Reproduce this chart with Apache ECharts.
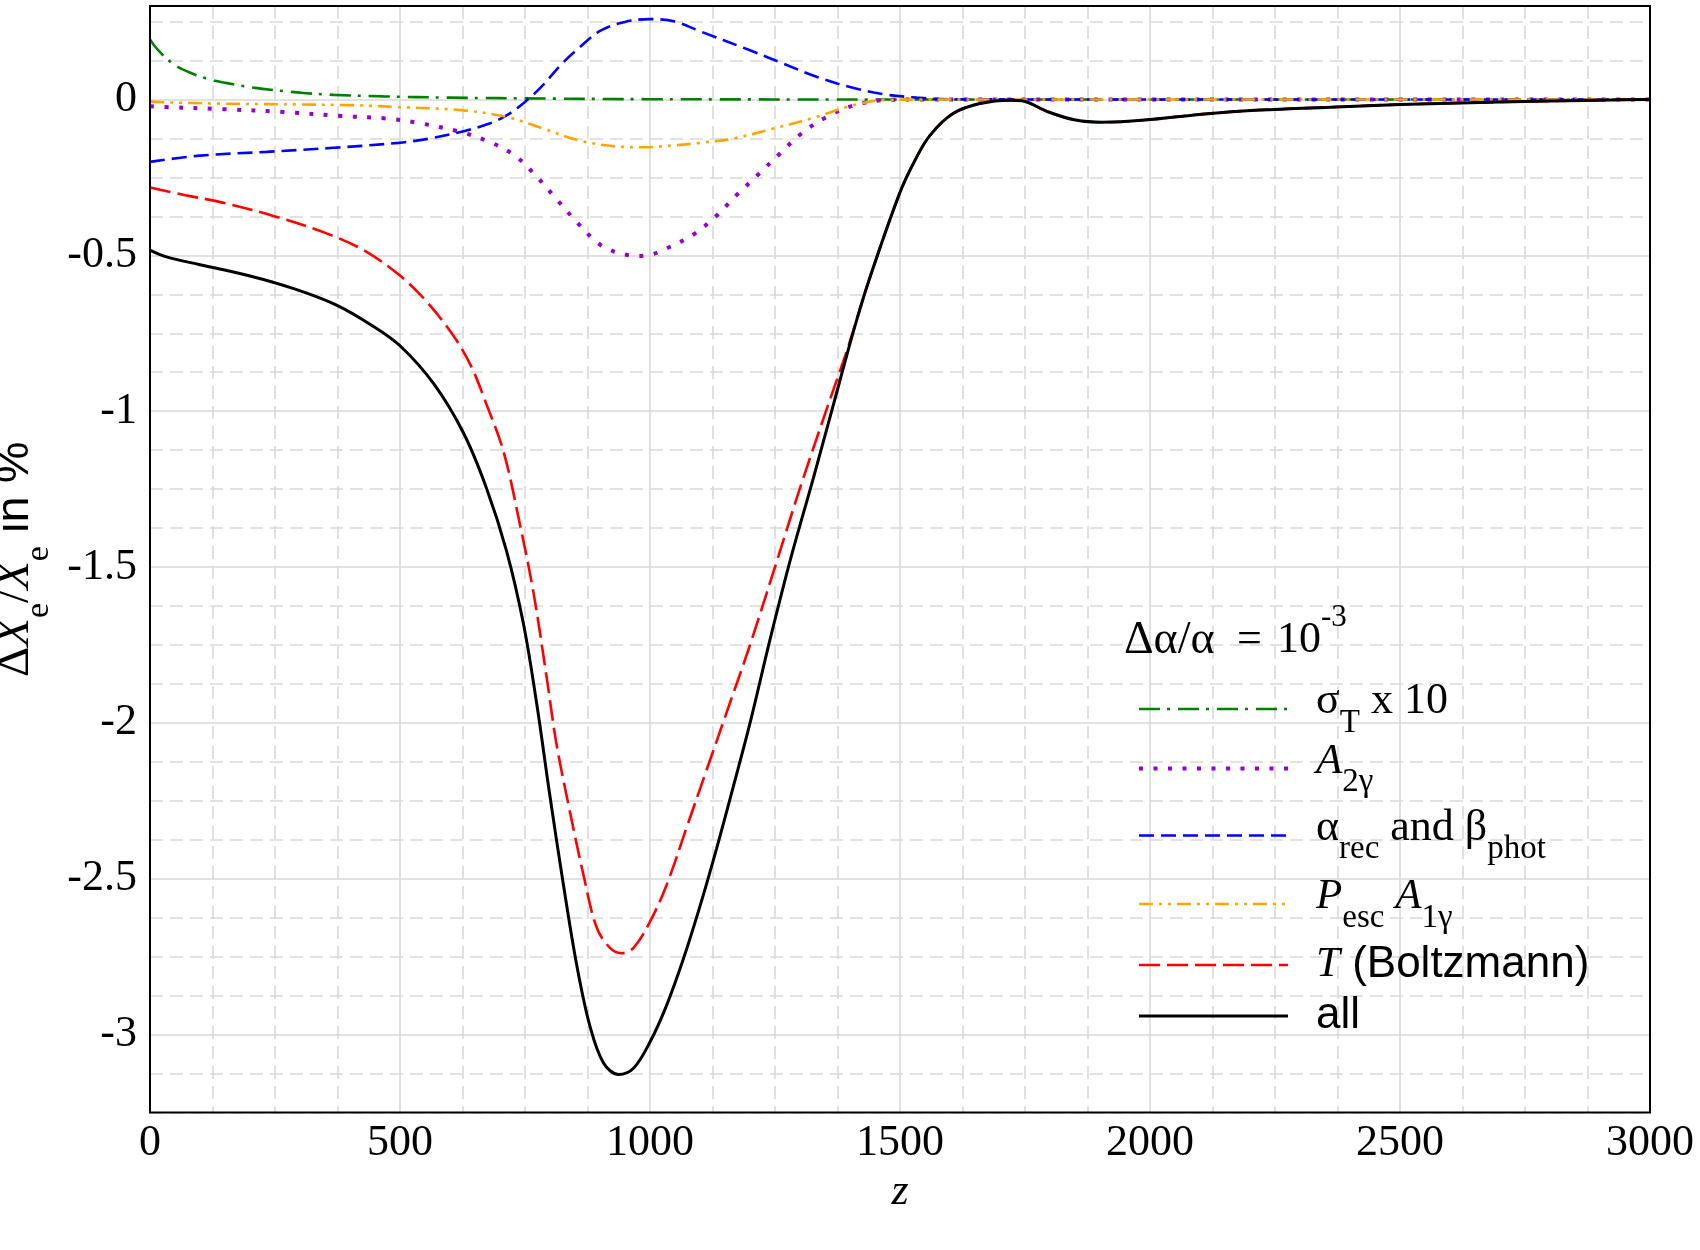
<!DOCTYPE html>
<html><head><meta charset="utf-8">
<script src="https://cdn.jsdelivr.net/npm/echarts@6/dist/echarts.min.js"></script>
<style>html,body{margin:0;padding:0;background:#fff}#c{width:1700px;height:1250px}</style>
</head><body><div id="c"></div>
<script>
// ---- data ----
const xTickValues = [0, 500, 1000, 1500, 2000, 2500, 3000];
const yTickValues = [0, -0.5, -1, -1.5, -2, -2.5, -3];

const zSigma = [0, 10, 23, 40, 63, 93, 110, 130, 180, 207, 267, 307, 367, 467, 600, 800, 1000, 1500, 3000];
const vSigma = [0.193, 0.170, 0.147, 0.122, 0.098, 0.078, 0.069, 0.060, 0.045, 0.038, 0.027, 0.021, 0.015, 0.010, 0.006, 0.003, 0.001, 0, 0];

const zA2 = [0, 27, 147, 267, 383, 473, 536, 621, 679, 729, 771, 810, 850, 893, 918, 946, 975, 1003, 1033, 1087, 1133, 1173, 1217, 1260, 1303, 1353, 1407, 1467, 1550, 2000, 3000];
const vA2 = [-0.022, -0.024, -0.031, -0.040, -0.053, -0.061, -0.075, -0.104, -0.136, -0.179, -0.243, -0.314, -0.387, -0.457, -0.481, -0.496, -0.502, -0.497, -0.478, -0.433, -0.373, -0.307, -0.240, -0.173, -0.109, -0.056, -0.019, -0.002, 0, 0, 0];

const zRec = [0, 100, 233, 367, 497, 560, 621, 679, 714, 750, 786, 821, 857, 900, 950, 1000, 1050, 1100, 1200, 1267, 1333, 1400, 1467, 1533, 1600, 2000, 3000];
const vRec = [-0.200, -0.180, -0.168, -0.155, -0.139, -0.125, -0.104, -0.077, -0.050, -0.008, 0.046, 0.110, 0.164, 0.220, 0.249, 0.258, 0.250, 0.219, 0.158, 0.115, 0.073, 0.040, 0.017, 0.006, 0.001, 0, 0];

const zPesc = [0, 13, 133, 400, 493, 621, 714, 786, 857, 929, 986, 1050, 1100, 1167, 1247, 1333, 1400, 1467, 1550, 2000, 3000];
const vPesc = [-0.006, -0.008, -0.013, -0.018, -0.024, -0.034, -0.056, -0.093, -0.131, -0.150, -0.153, -0.147, -0.139, -0.125, -0.093, -0.056, -0.021, -0.002, 0, 0, 0];

const zT = [0, 71, 143, 250, 357, 429, 500, 553, 607, 643, 673, 707, 740, 767, 793, 813, 840, 867, 893, 920, 943, 967, 1000, 1033, 1073, 1113, 1153, 1200, 1247, 1300, 1353, 1393, 1438, 1499, 1530, 1560, 1606, 1660, 1721, 1744, 1797, 1851, 1905, 1989, 2104, 2218, 2372, 2500, 2700, 2900, 3000];
const vT = [-0.282, -0.307, -0.330, -0.375, -0.432, -0.485, -0.565, -0.648, -0.758, -0.858, -0.978, -1.129, -1.364, -1.582, -1.850, -2.068, -2.286, -2.488, -2.655, -2.722, -2.739, -2.722, -2.638, -2.521, -2.337, -2.152, -1.968, -1.750, -1.515, -1.247, -0.995, -0.810, -0.580, -0.302, -0.195, -0.115, -0.045, -0.013, -0.002, -0.004, -0.040, -0.066, -0.073, -0.066, -0.047, -0.034, -0.024, -0.016, -0.008, -0.002, 0];

const zAll = [0, 33, 100, 200, 286, 371, 443, 500, 567, 627, 673, 713, 747, 773, 800, 827, 853, 880, 907, 937, 967, 1000, 1033, 1067, 1100, 1133, 1167, 1200, 1240, 1280, 1327, 1367, 1407, 1438, 1499, 1530, 1560, 1606, 1660, 1721, 1744, 1797, 1851, 1905, 1989, 2104, 2218, 2372, 2500, 2700, 2900, 3000];
const vAll = [-0.483, -0.505, -0.530, -0.566, -0.606, -0.658, -0.724, -0.790, -0.911, -1.070, -1.247, -1.448, -1.683, -1.934, -2.236, -2.521, -2.773, -2.974, -3.091, -3.128, -3.108, -3.024, -2.907, -2.756, -2.588, -2.404, -2.202, -2.001, -1.733, -1.481, -1.213, -0.978, -0.743, -0.580, -0.302, -0.195, -0.115, -0.045, -0.013, -0.002, -0.004, -0.040, -0.066, -0.073, -0.066, -0.047, -0.034, -0.024, -0.016, -0.008, -0.002, 0];

// ---- styling ----
const SERIF = 'Liberation Serif', SANS = 'Liberation Sans';
const pairs = (zs, vs) => zs.map((z, i) => [z, vs[i]]);
const TR = 'rgba(0,0,0,0)', GRID = '#d9d9d9';

const defs = [
  {name: 'sigma', z: zSigma, v: vSigma, color: '#008000', width: 2.6, dash: [21, 7, 3, 8], rowH: 51},
  {name: 'A2', z: zA2, v: vA2, color: '#9400D3', width: 4, dash: [4, 10.5], rowH: 58},
  {name: 'rec', z: zRec, v: vRec, color: '#0000FF', width: 2.6, dash: [15, 7], rowH: 73},
  {name: 'pesc', z: zPesc, v: vPesc, color: '#FFA500', width: 2.6, dash: [14, 6, 3, 6, 3, 6], rowH: 64},
  {name: 'T', z: zT, v: vT, color: '#FF0000', width: 2.6, dash: [21, 7], rowH: 58},
  {name: 'all', z: zAll, v: vAll, color: '#000000', width: 3, dash: 'solid', rowH: 44}
];

const legendText = {
  sigma: '{p| }{m1|σ}{b|T}{m1| x 10}',
  A2: '{p| }{mi|A}{b|2γ}',
  rec: '{p| }{m|α}{b|rec}{m| and β}{b|phot}',
  pesc: '{p| }{mi|P}{b|esc}{mi| A}{b|1γ}',
  T: '{p| }{n|T}{h| (Boltzmann)}',
  all: '{p| }{h|all}'
};

const isMajor = v => yTickValues.some(t => Math.abs(t - v) < 1e-6);

const chart = echarts.init(document.getElementById('c'), null, {renderer: 'canvas'});
chart.setOption({
  animation: false,
  backgroundColor: '#fff',
  grid: {left: 150, top: 6, width: 1500, height: 1106.5, show: true, z: 5,
         containLabel: false, outerBoundsMode: 'none',
         borderColor: '#000', borderWidth: 2, backgroundColor: 'transparent'},
  title: {
    left: 1124, top: 602, padding: 0,
    text: '{a|Δα/α}{e|=}{t|10}{s|-3}',
    textStyle: {fontWeight: 'normal', rich: {
      a: {fontFamily: SERIF, fontWeight: 'normal', fontSize: 46, color: '#000', lineHeight: 50, width: 113, align: 'left', verticalAlign: 'middle'},
      e: {fontFamily: SERIF, fontWeight: 'normal', fontSize: 44, color: '#000', lineHeight: 50, width: 40, align: 'left', verticalAlign: 'middle'},
      t: {fontFamily: SERIF, fontWeight: 'normal', fontSize: 44, color: '#000', lineHeight: 50, verticalAlign: 'middle'},
      s: {fontFamily: SERIF, fontWeight: 'normal', fontSize: 31, color: '#000', padding: [0, 0, 46, 0], verticalAlign: 'middle'}
    }}
  },
  legend: {
    orient: 'vertical', left: 1137, top: 679, padding: 0, itemGap: 0,
    itemWidth: 149, itemHeight: 10, selectedMode: false,
    itemStyle: {opacity: 0, color: TR, borderWidth: 0},
    data: defs.map(d => ({name: d.name, itemStyle: {opacity: 0, color: TR, borderWidth: 0},
      textStyle: {lineHeight: d.rowH},
      lineStyle: {color: d.color, width: d.width, type: d.dash, opacity: 1}})),
    formatter: name => legendText[name],
    textStyle: {color: '#000', rich: {
      p: {width: 23, fontSize: 12},
      m1: {fontFamily: SERIF, fontSize: 44, color: '#000', padding: [0, 0, 16, 0], verticalAlign: 'middle'},
      m: {fontFamily: SERIF, fontSize: 44, color: '#000', padding: [0, 0, 14, 0], verticalAlign: 'middle'},
      mi: {fontFamily: SERIF, fontStyle: 'italic', fontSize: 43, color: '#000', padding: [0, 0, 14, 0], verticalAlign: 'middle'},
      b: {fontFamily: SERIF, fontSize: 33, color: '#000', padding: [28, 0, 0, 0], verticalAlign: 'middle'},
      n: {fontFamily: SERIF, fontStyle: 'italic', fontSize: 43, color: '#000', verticalAlign: 'middle'},
      h: {fontFamily: SANS, fontSize: 44, color: '#000', verticalAlign: 'middle'}
    }}
  },
  xAxis: {
    type: 'value', min: xTickValues[0], max: xTickValues[xTickValues.length - 1], interval: 500,
    axisLine: {show: false}, axisTick: {show: false},
    axisLabel: {fontFamily: SERIF, fontSize: 44, color: '#000', margin: 9, formatter: v => String(v)},
    splitLine: {show: true, lineStyle: {color: GRID, width: 1.6}},
    minorTick: {show: false, splitNumber: 4},
    minorSplitLine: {show: true, lineStyle: {color: GRID, width: 1.6, type: [13, 7]}},
    name: 'z', nameLocation: 'middle', nameGap: 68,
    nameTextStyle: {fontFamily: SERIF, fontStyle: 'italic', fontSize: 44, color: '#000', verticalAlign: 'middle'}
  },
  yAxis: [{
    type: 'value', min: -3.25, max: 0.3, interval: 0.125,
    axisLine: {show: false}, axisTick: {show: false},
    axisLabel: {fontFamily: SERIF, fontSize: 44, color: '#000', margin: 13,
      formatter: v => isMajor(v) ? String(Math.round(v * 2) / 2) : ''},
    splitLine: {show: true, lineStyle: {color: [TR, TR, GRID, TR], width: 1.6}},
    name: '{r|Δ}{i|X}{s|e}{r|/}{i|X}{s|e}{h| in %}',
    nameLocation: 'middle', nameRotate: 90, nameGap: 128,
    nameTextStyle: {verticalAlign: 'middle', rich: {
      r: {fontFamily: SERIF, fontSize: 47, color: '#000', verticalAlign: 'middle'},
      i: {fontFamily: SERIF, fontStyle: 'italic', fontSize: 47, color: '#000', verticalAlign: 'middle'},
      s: {fontFamily: SERIF, fontSize: 34, color: '#000', padding: [48, 0, 0, 0], verticalAlign: 'middle'},
      h: {fontFamily: SANS, fontSize: 47, color: '#000', verticalAlign: 'middle'}
    }}
  }, {
    type: 'value', min: -3.25, max: 0.3, interval: 0.125, position: 'left',
    axisLine: {show: false}, axisTick: {show: false}, axisLabel: {show: false},
    splitLine: {show: true, lineStyle: {color: [GRID, GRID, TR, GRID], width: 1.6, type: [13, 7]}}
  }],
  series: defs.map(d => ({
    name: d.name, type: 'line', yAxisIndex: 0, data: pairs(d.z, d.v),
    symbol: 'none', showSymbol: false, smooth: 0.35, silent: true,
    lineStyle: {color: d.color, width: d.width, type: d.dash},
    itemStyle: {color: d.color}
  }))
});
</script></body></html>
